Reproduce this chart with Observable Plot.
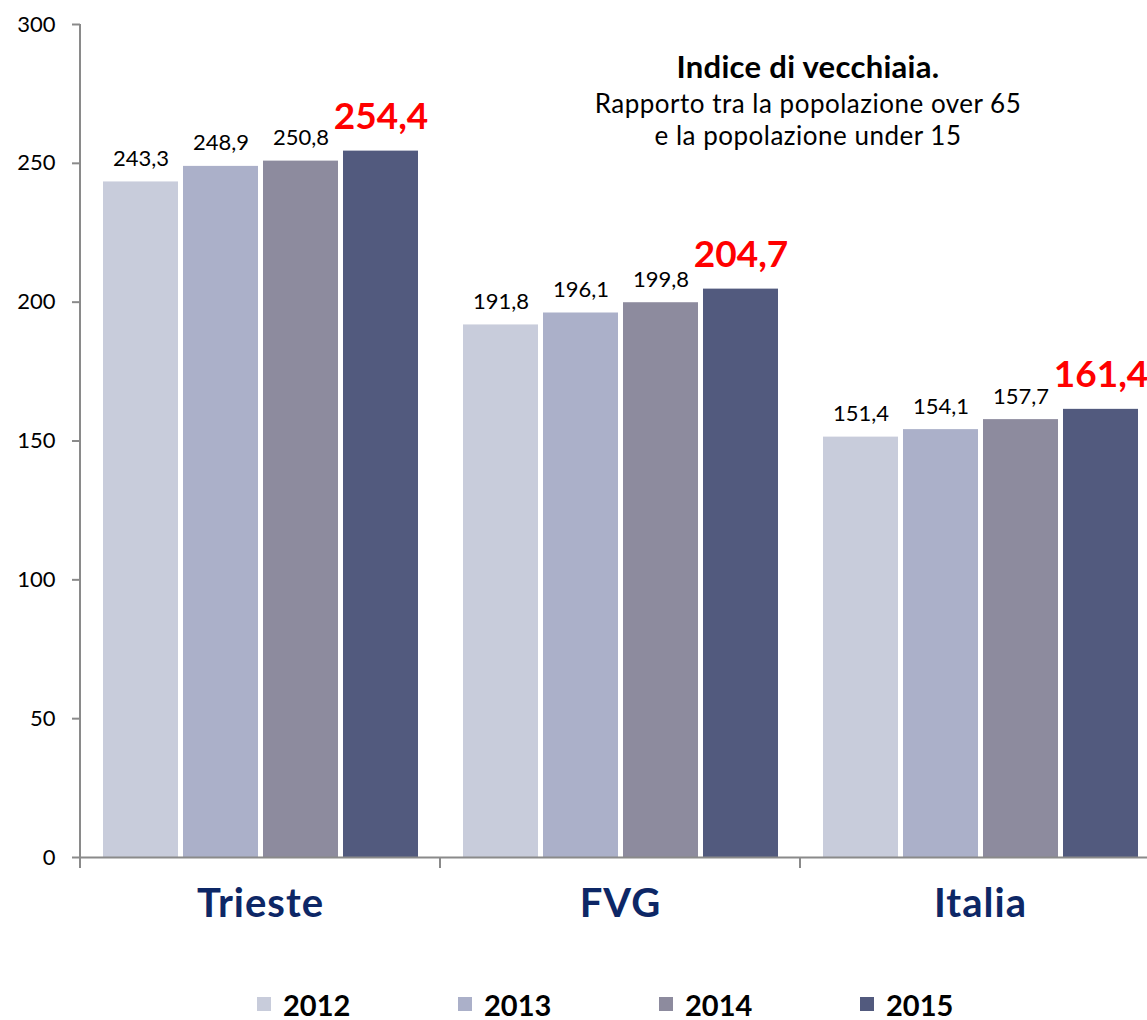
<!DOCTYPE html>
<html>
<head>
<meta charset="utf-8">
<script src="https://cdn.jsdelivr.net/npm/d3@7"></script>
<script src="https://cdn.jsdelivr.net/npm/@observablehq/plot@0.6"></script>
<style>
  html, body { margin: 0; padding: 0; background: #fff; overflow: hidden; }
  #wrap { position: relative; width: 1147px; font-family: Lato, "Open Sans", sans-serif; }
  .t { position: absolute; left: 508px; width: 600px; text-align: center; color: #000; white-space: nowrap; }
  #legend { display: flex; height: 108px; align-items: center; padding-left: 257px; }
  .li { display: flex; align-items: center; width: 201px; font-weight: bold; font-size: 29px; color: #000; }
  .sw { width: 14px; height: 14px; margin-right: 12px; }
</style>
</head>
<body>
<div id="wrap">
  <div id="chart"></div>
  <div class="t" style="top:48px;font-size:31px;font-weight:bold;line-height:36px;letter-spacing:0.3px;">Indice di vecchiaia.</div>
  <div class="t" style="top:86px;font-size:26px;line-height:34px;letter-spacing:0.5px;">Rapporto tra la popolazione over 65</div>
  <div class="t" style="top:118px;font-size:26px;line-height:34px;letter-spacing:0.5px;">e la popolazione under 15</div>
  <div id="legend"></div>
</div>
<script>
const categories = ["Trieste", "FVG", "Italia"];
const years = ["2012", "2013", "2014", "2015"];
const colors = ["#c8ccdb", "#abb0c9", "#8d8b9e", "#525a7e"];
const valuesTrieste = [243.3, 248.9, 250.8, 254.4];
const valuesFVG = [191.8, 196.1, 199.8, 204.7];
const valuesItalia = [151.4, 154.1, 157.7, 161.4];
const yTicks = [0, 50, 100, 150, 200, 250, 300];

const series = {Trieste: valuesTrieste, FVG: valuesFVG, Italia: valuesItalia};
const data = categories.flatMap(c => years.map((y, i) => ({cat: c, year: y, value: series[c][i]})));
const fmt = d3.formatLocale({decimal: ",", thousands: ".", grouping: [3], currency: ["", "€"]}).format(".1f");
const last = years[years.length - 1];

const chart = Plot.plot({
  width: 1147,
  height: 950,
  marginTop: 24,
  marginBottom: 93,
  marginLeft: 79,
  marginRight: -13,
  style: {fontFamily: "Lato, 'Open Sans', sans-serif", background: "#fff", overflow: "visible"},
  fx: {domain: categories, padding: 0, axis: null},
  x: {domain: years, paddingInner: 0.0625, paddingOuter: 0.28, axis: null},
  y: {domain: [0, 300], axis: null},
  color: {domain: years, range: colors},
  marks: [
    Plot.barY(data, {fx: "cat", x: "year", y: "value", fill: "year"}),
    Plot.ruleY([0], {stroke: "#8a8a8a", strokeWidth: 2}),
    Plot.axisY({ticks: yTicks, label: null, tickSize: 8, tickPadding: 17, fontSize: 22, stroke: "#8a8a8a", strokeWidth: 2, fill: "#000", tickFormat: d => String(d)}),
    Plot.text(data.filter(d => d.year !== last), {fx: "cat", x: "year", y: "value", text: d => fmt(d.value), lineAnchor: "bottom", dy: -16, fontSize: 22, fill: "#000"}),
    Plot.text(data.filter(d => d.year === last), {fx: "cat", x: "year", y: "value", text: d => fmt(d.value), lineAnchor: "bottom", dy: -22, fontSize: 37, fontWeight: "bold", fill: "#ff0000"}),
    Plot.text(categories, {fx: d => d, frameAnchor: "bottom", dy: 59, text: d => d, fontSize: 40, fontWeight: "bold", fill: "#0d2766", style: "letter-spacing:1px"})
  ]
});
document.getElementById("chart").appendChild(chart);

// axis lines and group separator ticks, from the plot's own scales
const ys = chart.scale("y"), fxs = chart.scale("fx");
const svg = d3.select(chart);
const y0 = ys.apply(0), y300 = ys.apply(300);
const x0 = fxs.apply(categories[0]);
svg.append("line").attr("x1", x0).attr("x2", x0).attr("y1", y300).attr("y2", y0 + 11)
  .attr("stroke", "#8a8a8a").attr("stroke-width", 2);
categories.slice(1).forEach(c => {
  const xb = fxs.apply(c);
  svg.append("line").attr("x1", xb).attr("x2", xb).attr("y1", y0).attr("y2", y0 + 11)
    .attr("stroke", "#8a8a8a").attr("stroke-width", 2);
});
svg.selectAll("text").filter(function() { return this.textContent && categories.includes(this.textContent); })
  .style("letter-spacing", "1px");

const legend = d3.select("#legend");
years.forEach((y, i) => {
  const it = legend.append("div").attr("class", "li");
  it.append("div").attr("class", "sw").style("background", colors[i]);
  it.append("span").text(y);
});
</script>
</body>
</html>
